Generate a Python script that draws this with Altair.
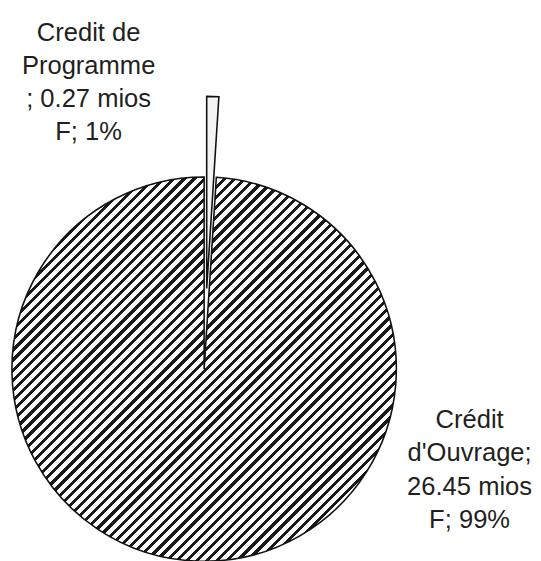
import math
import altair as alt
import pandas as pd

# ---- data ----
categories = ["Credit de Programme", "Crédit d'Ouvrage"]
values = [0.27, 26.45]
order = [0, 1]
label_lines = [
    ["Credit de", "Programme", "; 0.27 mios", "F; 1%"],
    ["Crédit", "d'Ouvrage;", "26.45 mios", "F; 99%"],
]

df = pd.DataFrame({"cat": categories, "value": values, "ord": order})

# ---- layout / style ----
W, H = 525, 545
CX, CY = 196.5, 362.5
R = 195.5
EXPLODE = 82

# diagonal hatch as hard-stop linear gradient
N = 76
frac = 0.42
stops = []
for i in range(N):
    a = i / N
    b = (i + frac) / N
    c = (i + 1) / N
    stops += [
        alt.GradientStop(offset=a, color="#1a1a1a"),
        alt.GradientStop(offset=b, color="#1a1a1a"),
        alt.GradientStop(offset=b, color="#ffffff"),
        alt.GradientStop(offset=c, color="#ffffff"),
    ]
hatch = alt.LinearGradient(gradient="linear", stops=stops, x1=0, y1=0, x2=1, y2=1)

# angle of small slice middle for the explode offset
small_frac = values[0] / sum(values)
mid = small_frac * math.pi
ex_dx = EXPLODE * math.sin(mid)
ex_dy = -EXPLODE * math.cos(mid)

base = alt.Chart(df).transform_stack(
    stack="value", groupby=[], as_=["v0", "v1"], offset="normalize",
    sort=[alt.SortField("ord", order="ascending")]
).transform_calculate(
    t0="datum.v0 * 2 * PI", t1="datum.v1 * 2 * PI"
)

main = base.transform_filter(alt.datum.ord == 1).mark_arc(
    fill=hatch, stroke="#111111", strokeWidth=1.6, outerRadius=R
).encode(
    theta=alt.Theta("t0:Q", scale=None),
    theta2="t1:Q",
    x=alt.value(CX), y=alt.value(CY),
)

small = base.transform_filter(alt.datum.ord == 0).mark_arc(
    fill="#f4f4f4", stroke="#111111", strokeWidth=1.6, outerRadius=R
).encode(
    theta=alt.Theta("t0:Q", scale=None),
    theta2="t1:Q",
    x=alt.value(CX + ex_dx), y=alt.value(CY + ex_dy),
)

lab_df = pd.DataFrame({"txt": label_lines, "ord": order})
text_left = alt.Chart(lab_df).transform_filter(alt.datum.ord == 0).mark_text(
    font="Liberation Sans", fontSize=26, lineHeight=33.7, align="center",
    baseline="alphabetic", color="#231f20"
).encode(text="txt", x=alt.value(79), y=alt.value(28.7))

text_right = alt.Chart(lab_df).transform_filter(alt.datum.ord == 1).mark_text(
    font="Liberation Sans", fontSize=26, lineHeight=33.7, align="center",
    baseline="alphabetic", color="#231f20"
).encode(text="txt", x=alt.value(466.5), y=alt.value(422.7))

chart = alt.layer(main, small, text_left, text_right).properties(
    width=W, height=H, padding=0
).configure_view(stroke=None)

chart.save("out.html", embed_options={"renderer": "svg", "actions": False})
